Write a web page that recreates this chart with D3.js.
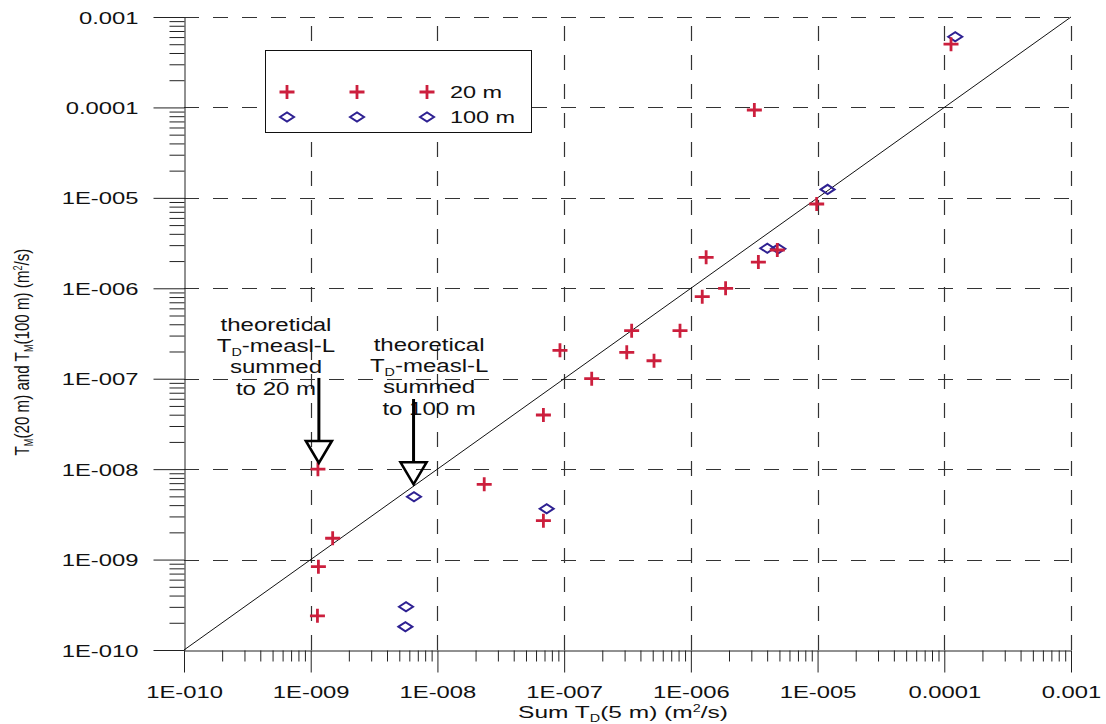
<!DOCTYPE html>
<html>
<head>
<meta charset="utf-8">
<script src="https://cdn.jsdelivr.net/npm/d3@7"></script>
<style>
  html, body { margin: 0; padding: 0; background: #fff; }
  svg { display: block; font-family: "Liberation Sans", Arial, sans-serif; }
</style>
</head>
<body>
<svg id="chart" width="1106" height="724"></svg>
<script>
// Axis decades and their printed labels
const decades = [1e-10, 1e-9, 1e-8, 1e-7, 1e-6, 1e-5, 1e-4, 1e-3];
const tickLabels = ["1E-010", "1E-009", "1E-008", "1E-007", "1E-006", "1E-005", "0.0001", "0.001"];

// 20 m interval: summed 5 m transmissivity vs measured 20 m transmissivity (m²/s)
const sumTD20 = [1.14e-9, 1.49e-9, 1.15e-9, 1.13e-9, 2.34e-8, 6.86e-8, 6.86e-8, 9.27e-8, 1.65e-7,
                 3.12e-7, 3.41e-7, 5.12e-7, 8.21e-7, 1.23e-6, 1.32e-6, 1.88e-6, 3.41e-6, 4.81e-6,
                 3.17e-6, 9.84e-6, 1.13e-4];
const tm20   = [1.0e-8, 1.72e-9, 8.34e-10, 2.39e-10, 6.8e-9, 2.69e-9, 3.97e-8, 2.06e-7, 1.0e-7,
                 1.96e-7, 3.40e-7, 1.58e-7, 3.40e-7, 8.07e-7, 2.2e-6, 1.0e-6, 1.95e-6, 2.65e-6,
                 9.37e-5, 8.55e-6, 5.0e-4];

// 100 m interval
const sumTD100 = [6.53e-9, 5.65e-9, 5.59e-9, 7.28e-8, 4.01e-6, 4.9e-6, 1.20e-5, 1.22e-4];
const tm100    = [4.95e-9, 3.01e-10, 1.81e-10, 3.65e-9, 2.77e-6, 2.74e-6, 1.24e-5, 6.05e-4];

const seriesNames = ["20 m", "100 m"];

// Annotation arrows: tip (x, y) and tail y, in data units; label anchor in data units
const noteLines = [
  ["theoretical", "T|D|-measl-L", "summed", "to 20 m"],
  ["theoretical", "T|D|-measl-L", "summed", "to 100 m"]
];
const noteTipX  = [1.16e-9, 6.48e-9];
const noteTipY  = [1.17e-8, 6.8e-9];
const noteTailY = [1.02e-7, 5.97e-8];
const noteTextX = [5.32e-10, 8.6e-9];
const noteTextY = [3.4e-7, 2.04e-7];

// ---------------------------------------------------------------
const svg = d3.select("#chart");
const plotLeft = 184, plotRight = 1071, plotTop = 17, plotBottom = 650;

const x = d3.scaleLog().domain([1e-10, 1e-3]).range([plotLeft, plotRight]);
const y = d3.scaleLog().domain([1e-10, 1e-3]).range([plotBottom, plotTop]);

const minors = [];
decades.slice(0, -1).forEach(d => { for (let k = 2; k <= 9; k++) minors.push(d * k); });

const RED = "#cc1f3d", BLUE = "#2e2192";
const HSCALE_TICK = 1.40, HSCALE_NOTE = 1.3, HSCALE_LEG = 1.38;

// grid (dashed) at every decade except the axes themselves
const grid = svg.append("g").attr("stroke", "#333").attr("stroke-width", 1.2)
  .attr("stroke-dasharray", "15,14").attr("fill", "none");
grid.selectAll("line.h").data(decades.slice(1)).join("line").attr("class", "h")
  .attr("x1", plotLeft).attr("x2", plotRight)
  .attr("y1", d => Math.round(y(d)) + 0.5).attr("y2", d => Math.round(y(d)) + 0.5);
grid.selectAll("line.v").data(decades.slice(1)).join("line").attr("class", "v")
  .attr("y1", plotBottom).attr("y2", plotTop)
  .attr("x1", d => Math.round(x(d)) + 0.5).attr("x2", d => Math.round(x(d)) + 0.5);

// minor ticks
svg.append("g").attr("transform", `translate(${plotLeft + 0.5},0)`)
  .call(d3.axisLeft(y).tickValues(minors).tickSize(15).tickSizeOuter(0).tickFormat(""))
  .call(g => g.select(".domain").remove())
  .call(g => g.selectAll("line").attr("stroke", "#222"));
svg.append("g").attr("transform", `translate(0,${plotBottom + 0.5})`)
  .call(d3.axisBottom(x).tickValues(minors).tickSize(11).tickSizeOuter(0).tickFormat(""))
  .call(g => g.select(".domain").remove())
  .call(g => g.selectAll("line").attr("stroke", "#222"));

// major axes
const yAxis = svg.append("g").attr("transform", `translate(${plotLeft + 0.5},0)`)
  .call(d3.axisLeft(y).tickValues(decades).tickSize(31).tickSizeOuter(0)
    .tickFormat((d, i) => tickLabels[i]));
const xAxis = svg.append("g").attr("transform", `translate(0,${plotBottom + 0.5})`)
  .call(d3.axisBottom(x).tickValues(decades).tickSize(22).tickSizeOuter(0)
    .tickFormat((d, i) => tickLabels[i]));

[yAxis, xAxis].forEach(g => {
  g.select(".domain").attr("stroke", "#222");
  g.selectAll("line").attr("stroke", "#222");
  g.selectAll("text").attr("font-size", 17).attr("fill", "#111")
    .attr("font-family", "'Liberation Sans', Arial, sans-serif");
});
yAxis.selectAll("text")
  .attr("x", 0).attr("dy", null).attr("y", 0)
  .attr("transform", `translate(-46,6) scale(${HSCALE_TICK},1)`);
xAxis.selectAll("text")
  .attr("y", 0).attr("dy", null)
  .attr("transform", `translate(0,47.5) scale(${HSCALE_TICK},1)`);

// 1:1 line
svg.append("path")
  .datum([1e-10, 1e-3])
  .attr("d", d3.line().x(d => x(d)).y(d => y(d)))
  .attr("stroke", "#111").attr("stroke-width", 1).attr("fill", "none");

// markers
const plusPath = "M-7.5,0H7.5M0,-7V7";
const diamondPath = "M-7,0L0,-4.6L7,0L0,4.6Z";

svg.append("g").selectAll("path").data(sumTD100.map((v, i) => [v, tm100[i]])).join("path")
  .attr("d", diamondPath)
  .attr("transform", d => `translate(${x(d[0])},${y(d[1])})`)
  .attr("fill", "none").attr("stroke", BLUE).attr("stroke-width", 2);

svg.append("g").selectAll("path").data(sumTD20.map((v, i) => [v, tm20[i]])).join("path")
  .attr("d", plusPath)
  .attr("transform", d => `translate(${x(d[0])},${y(d[1])})`)
  .attr("fill", "none").attr("stroke", RED).attr("stroke-width", 2.8);

// annotations
noteLines.forEach((lines, i) => {
  const g = svg.append("g");
  const tx = x(noteTextX[i]), ty = y(noteTextY[i]);
  lines.forEach((ln, j) => {
    const t = g.append("text")
      .attr("text-anchor", "middle")
      .attr("font-size", 18.5).attr("fill", "#111")
      .attr("transform", `translate(${tx},${ty + j * 21.3}) scale(${HSCALE_NOTE},1)`);
    const parts = ln.split("|");
    if (parts.length === 1) {
      t.text(ln);
    } else {
      t.append("tspan").text(parts[0]);
      t.append("tspan").attr("font-size", 11).attr("dy", 4).text(parts[1]);
      t.append("tspan").attr("dy", -4).text(parts[2]);
    }
  });
  const ax = x(noteTipX[i]), tipY = y(noteTipY[i]), tailY = y(noteTailY[i]);
  const headH = 22, headW = 26;
  g.append("line")
    .attr("x1", ax).attr("x2", ax).attr("y1", tailY).attr("y2", tipY - headH)
    .attr("stroke", "#000").attr("stroke-width", 3);
  g.append("path")
    .attr("d", `M${ax - headW / 2},${tipY - headH}L${ax + headW / 2},${tipY - headH}L${ax},${tipY}Z`)
    .attr("fill", "none").attr("stroke", "#000").attr("stroke-width", 2.6)
    .attr("stroke-linejoin", "miter");
});

// legend
const leg = svg.append("g");
leg.append("rect")
  .attr("x", 265.5).attr("y", 50.5).attr("width", 266).attr("height", 82)
  .attr("fill", "#fff").attr("stroke", "#111").attr("stroke-width", 1);
const legRowsY = [92, 117];
const legSymX = [287, 357, 427];
seriesNames.forEach((name, r) => {
  legSymX.forEach(sx => {
    leg.append("path")
      .attr("d", r === 0 ? plusPath : diamondPath)
      .attr("transform", `translate(${sx},${legRowsY[r]})`)
      .attr("fill", "none")
      .attr("stroke", r === 0 ? RED : BLUE)
      .attr("stroke-width", r === 0 ? 2.8 : 2);
  });
  leg.append("text")
    .attr("font-size", 17).attr("fill", "#111")
    .attr("transform", `translate(450,${legRowsY[r] + 6}) scale(${HSCALE_LEG},1)`)
    .text(name);
});

// axis titles, stretched to a set width
function fit(textSel, width) {
  const w = textSel.node().getComputedTextLength();
  return width / w;
}
const xt = svg.append("text").attr("text-anchor", "middle").attr("font-size", 17).attr("fill", "#111");
xt.append("tspan").text("Sum T");
xt.append("tspan").attr("font-size", 10).attr("dy", 4).text("D");
xt.append("tspan").attr("dy", -4).text("(5 m) (m");
xt.append("tspan").attr("font-size", 10).attr("dy", -6).text("2");
xt.append("tspan").attr("dy", 6).text("/s)");
xt.attr("transform", `translate(623,718) scale(${fit(xt, 210)},1)`);

const yt = svg.append("text").attr("text-anchor", "middle").attr("font-size", 20).attr("fill", "#111");
yt.append("tspan").text("T");
yt.append("tspan").attr("font-size", 12).attr("dy", 4).text("M");
yt.append("tspan").attr("dy", -4).text("(20 m) and T");
yt.append("tspan").attr("font-size", 12).attr("dy", 4).text("M");
yt.append("tspan").attr("dy", -4).text("(100 m) (m");
yt.append("tspan").attr("font-size", 12).attr("dy", -7).text("2");
yt.append("tspan").attr("dy", 7).text("/s)");
yt.attr("transform", `translate(29,352) rotate(-90) scale(${fit(yt, 207)},1)`);
</script>
</body>
</html>
